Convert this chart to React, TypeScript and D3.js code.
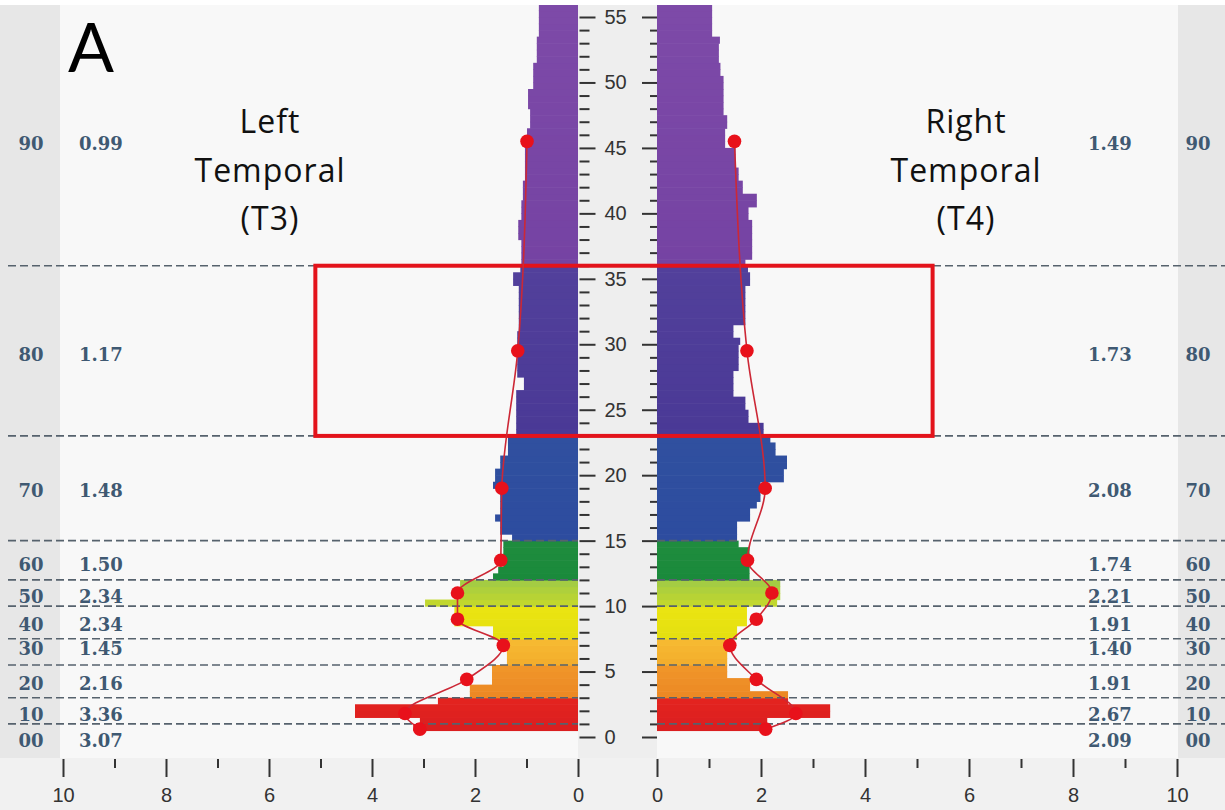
import React, { useEffect, useRef } from 'react';
import * as d3 from 'd3';

// spectra: one value per 0.5 Hz bin, first bin starts at 0.5 Hz
const binStart = 0.5;
const binWidth = 0.5;

const leftBars = [
  3.20, 3.07, 4.33, 4.33, 2.72, 2.10, 2.10, 1.67, 1.67, 1.67,
  1.38, 1.38, 1.38, 1.45, 1.65, 1.65, 2.40, 2.40, 2.40, 2.97,
  2.29, 2.29, 2.29, 1.65, 1.55, 1.45, 1.45, 1.45, 1.45, 1.28,
  1.51, 1.51, 1.61, 1.51, 1.51, 1.51, 1.51, 1.65, 1.61, 1.61,
  1.51, 1.51, 1.36, 1.36, 1.36, 1.20, 1.20, 1.20, 1.20, 1.20,
  1.20, 1.20, 1.05, 1.05, 1.18, 1.18, 1.18, 1.18, 1.18, 1.18,
  1.18, 1.15, 1.15, 1.15, 1.15, 1.15, 1.15, 1.15, 1.26, 1.26,
  1.12, 1.10, 1.10, 1.10, 1.10, 1.16, 1.16, 1.16, 1.10, 1.10,
  1.10, 1.07, 1.07, 1.07, 1.03, 1.03, 1.03, 1.03, 1.03, 1.03,
  0.99, 0.99, 0.93, 0.93, 0.93, 0.97, 0.97, 0.97, 0.87, 0.87,
  0.87, 0.87, 0.80, 0.80, 0.80, 0.80, 0.76, 0.76, 0.76, 0.76,
  0.76,
];

const rightBars = [
  2.05, 2.12, 3.33, 3.33, 2.52, 2.52, 1.79, 1.79, 1.35, 1.35,
  1.35, 1.35, 1.35, 1.35, 1.54, 1.54, 1.73, 1.73, 1.73, 2.31,
  2.37, 2.37, 2.37, 1.78, 1.78, 1.78, 1.78, 1.78, 1.57, 1.54,
  1.54, 1.54, 1.79, 1.79, 1.92, 1.99, 1.99, 1.99, 2.44, 2.44,
  2.50, 2.50, 2.28, 2.28, 2.18, 2.05, 2.05, 1.76, 1.76, 1.70,
  1.70, 1.47, 1.47, 1.47, 1.47, 1.57, 1.57, 1.57, 1.57, 1.60,
  1.47, 1.47, 1.70, 1.70, 1.70, 1.70, 1.70, 1.70, 1.79, 1.79,
  1.75, 1.70, 1.83, 1.83, 1.83, 1.83, 1.83, 1.83, 1.76, 1.76,
  1.92, 1.92, 1.65, 1.65, 1.57, 1.57, 1.51, 1.51, 1.51, 1.31,
  1.31, 1.31, 1.35, 1.35, 1.28, 1.28, 1.28, 1.28, 1.28, 1.28,
  1.22, 1.22, 1.19, 1.19, 1.19, 1.21, 1.06, 1.06, 1.06, 1.06,
  1.06,
];

// frequency bands (Hz) and their codes
const bandEdges = [0, 3, 5.5, 7.5, 10, 12, 15, 23, 36, 60];
const dividerHz = [1, 3, 5.5, 7.5, 10, 12, 15, 23, 36];
const bandNames = ['00', '10', '20', '30', '40', '50', '60', '70', '80', '90'];
const meanHz = [0.6, 1.8, 4.4, 7.0, 9.0, 11.0, 13.5, 19.0, 29.5, 45.5];
const leftMeans = [3.07, 3.36, 2.16, 1.45, 2.34, 2.34, 1.50, 1.48, 1.17, 0.99];
const rightMeans = [2.09, 2.67, 1.91, 1.40, 1.91, 2.21, 1.74, 2.08, 1.73, 1.49];
const labelHz = [-0.3, 1.7, 4.1, 6.75, 8.6, 10.7, 13.2, 18.85, 29.25, 45.3];

const ampMajor = [0, 2, 4, 6, 8, 10];
const ampMinor = [1, 3, 5, 7, 9];
const hzMajor = d3.range(0, 56, 5);
const hzMinor = d3.range(0, 56).filter(d => d % 5 !== 0);

const highlight = { loHz: 23, hiHz: 36, left: 5.1, right: 5.3 };

const bandColors = [
  ['#d81d20', '#e4241f'],
  ['#ec8823', '#f0962a'],
  ['#f3ac2c', '#f6bb32'],
  ['#e4df10', '#ebe512'],
  ['#c6d92a', '#9fca46'],
  ['#198a3b', '#1f8c3e'],
  ['#2d4c9f', '#30509f'],
  ['#4a3996', '#52409b'],
  ['#7543a3', '#7d4aa8'],
];

const W = 1225;
const H = 810;

function colorFor(h: number) {
  const mid = h + binWidth / 2;
  let i = bandEdges.findIndex((e, k) => k < bandEdges.length - 1 && mid >= e && mid < bandEdges[k + 1]);
  if (i < 0) i = bandColors.length - 1;
  const t = (mid - bandEdges[i]) / (Math.min(bandEdges[i + 1], 56) - bandEdges[i]);
  return d3.interpolateRgb(bandColors[i][0], bandColors[i][1])(t);
}

export default function App() {
  const ref = useRef<SVGSVGElement>(null);

  useEffect(() => {
    const svg = d3.select(ref.current);
    svg.selectAll('*').remove();

    const y = d3.scaleLinear().domain([0, 55]).range([737, 17]);
    const xL = d3.scaleLinear().domain([0, 10]).range([578, 63]);
    const xR = d3.scaleLinear().domain([0, 10]).range([657, 1177]);

    const plotTop = 5;
    const plotBottom = 758;

    // backgrounds
    svg.append('rect').attr('width', W).attr('height', H).attr('fill', '#f1f1f1');
    svg.append('rect').attr('width', W).attr('height', plotTop).attr('fill', '#ffffff');
    svg.append('rect').attr('x', 0).attr('y', plotTop).attr('width', W).attr('height', plotBottom - plotTop).attr('fill', '#f8f8f8');
    svg.append('rect').attr('x', 0).attr('y', plotTop).attr('width', xL(10) - 3).attr('height', plotBottom - plotTop).attr('fill', '#e7e7e7');
    svg.append('rect').attr('x', xR(10) + 1).attr('y', plotTop).attr('width', W - xR(10) - 1).attr('height', plotBottom - plotTop).attr('fill', '#e7e7e7');
    svg.append('rect').attr('x', xL(0)).attr('y', plotTop).attr('width', xR(0) - xL(0)).attr('height', plotBottom - plotTop).attr('fill', '#eeeeee');

    svg.append('clipPath').attr('id', 'plotclip')
      .append('rect').attr('x', 0).attr('y', plotTop).attr('width', W).attr('height', plotBottom - plotTop);

    const bars = svg.append('g').attr('clip-path', 'url(#plotclip)');
    const mk = (vals: number[]) => vals.map((v, i) => ({ h: binStart + i * binWidth, v }));

    bars.selectAll('rect.l')
      .data(mk(leftBars))
      .join('rect')
        .attr('class', 'l')
        .attr('x', d => xL(d.v))
        .attr('y', d => y(d.h + binWidth))
        .attr('width', d => xL(0) - xL(d.v))
        .attr('height', d => y(d.h) - y(d.h + binWidth) + 0.6)
        .attr('fill', d => colorFor(d.h));

    bars.selectAll('rect.r')
      .data(mk(rightBars))
      .join('rect')
        .attr('class', 'r')
        .attr('x', xR(0))
        .attr('y', d => y(d.h + binWidth))
        .attr('width', d => xR(d.v) - xR(0))
        .attr('height', d => y(d.h) - y(d.h + binWidth) + 0.6)
        .attr('fill', d => colorFor(d.h));

    // band dividers
    const dash = svg.append('g')
      .attr('stroke', '#56626d').attr('stroke-width', 1.6).attr('stroke-dasharray', '8,4');
    dash.selectAll('line.l').data(dividerHz).join('line')
      .attr('class', 'l')
      .attr('x1', 8).attr('x2', xL(0))
      .attr('y1', d => y(d)).attr('y2', d => y(d));
    dash.selectAll('line.r').data(dividerHz).join('line')
      .attr('class', 'r')
      .attr('x1', xR(0)).attr('x2', W)
      .attr('y1', d => y(d)).attr('y2', d => y(d));

    // centre frequency axis
    const styleAxis = (g: any) => {
      g.select('.domain').remove();
      g.selectAll('.tick line').attr('stroke', '#333').attr('stroke-width', 2);
      g.selectAll('.tick text')
        .attr('fill', '#333')
        .style('font-family', '"Liberation Sans", Arial, sans-serif')
        .style('font-size', '20px');
    };

    svg.append('g').attr('transform', `translate(${xL(0) + 1.5},0)`)
      .call(d3.axisRight(y).tickValues(hzMajor).tickSize(16).tickPadding(9).tickFormat(d3.format('d')))
      .call(styleAxis);
    svg.append('g').attr('transform', `translate(${xL(0) + 1.5},0)`)
      .call(d3.axisRight(y).tickValues(hzMinor).tickSize(10).tickFormat(() => ''))
      .call(styleAxis);
    svg.append('g').attr('transform', `translate(${xR(0)},0)`)
      .call(d3.axisLeft(y).tickValues(hzMajor).tickSize(15).tickFormat(() => ''))
      .call(styleAxis);
    svg.append('g').attr('transform', `translate(${xR(0)},0)`)
      .call(d3.axisLeft(y).tickValues(hzMinor).tickSize(7).tickFormat(() => ''))
      .call(styleAxis);

    // amplitude axes
    [xL, xR].forEach(x => {
      svg.append('g').attr('transform', `translate(0,${plotBottom + 1})`)
        .call(d3.axisBottom(x).tickValues(ampMajor).tickSize(18).tickPadding(11).tickFormat(d3.format('d')))
        .call(styleAxis);
      svg.append('g').attr('transform', `translate(0,${plotBottom + 1})`)
        .call(d3.axisBottom(x).tickValues(ampMinor).tickSize(9).tickFormat(() => ''))
        .call(styleAxis);
    });

    // highlighted band
    svg.append('rect')
      .attr('x', xL(highlight.left))
      .attr('y', y(highlight.hiHz))
      .attr('width', xR(highlight.right) - xL(highlight.left))
      .attr('height', y(highlight.loHz) - y(highlight.hiHz))
      .attr('fill', 'none')
      .attr('stroke', '#e3131b')
      .attr('stroke-width', 4);

    // band means
    const pts = (vals: number[], x: d3.ScaleLinear<number, number>) =>
      meanHz.map((h, i) => [x(vals[i]), y(h)] as [number, number]).sort((a, b) => a[1] - b[1]);
    const line = d3.line().curve(d3.curveMonotoneY);
    [[leftMeans, xL], [rightMeans, xR]].forEach(([vals, x]: any) => {
      const p = pts(vals, x);
      svg.append('path').attr('d', line(p)).attr('fill', 'none')
        .attr('stroke', '#cc2836').attr('stroke-width', 1.6);
      svg.append('g').selectAll('circle').data(p).join('circle')
        .attr('cx', d => d[0]).attr('cy', d => d[1]).attr('r', 6.8)
        .attr('fill', '#e8111b');
    });

    // band codes and mean values
    const lab = svg.append('g')
      .style('font-family', '"DejaVu Serif", "Liberation Serif", serif')
      .style('font-weight', 'bold')
      .style('font-size', '18px')
      .attr('fill', '#3f5972')
      .attr('dominant-baseline', 'central');
    const f2 = d3.format('.2f');
    bandNames.forEach((name, i) => {
      const yy = y(labelHz[i]);
      lab.append('text').attr('x', 31).attr('y', yy).attr('text-anchor', 'middle').text(name);
      lab.append('text').attr('x', 79).attr('y', yy).text(f2(leftMeans[i]));
      lab.append('text').attr('x', 1088).attr('y', yy).text(f2(rightMeans[i]));
      lab.append('text').attr('x', 1198).attr('y', yy).attr('text-anchor', 'middle').text(name);
    });

    // titles
    const title = svg.append('g')
      .style('font-family', '"Open Sans", "Noto Sans", sans-serif')
      .style('font-size', '32px')
      .attr('letter-spacing', 1)
      .attr('fill', '#111')
      .attr('text-anchor', 'middle');
    [['Left', 'Temporal', '(T3)', 270], ['Right', 'Temporal', '(T4)', 966]].forEach(([a, b, c, cx]: any) => {
      [a, b, c].forEach((t, i) => {
        title.append('text').attr('x', cx).attr('y', 133 + i * 48.5).text(t);
      });
    });

    svg.append('text')
      .attr('x', 68).attr('y', 72)
      .style('font-family', 'Lato, "Open Sans", sans-serif')
      .style('font-size', '68px')
      .attr('fill', '#000')
      .text('A');
  }, []);

  return (
    <svg
      ref={ref}
      width={W}
      height={H}
      style={{ position: 'absolute', left: 0, top: 0, display: 'block' }}
    />
  );
}
